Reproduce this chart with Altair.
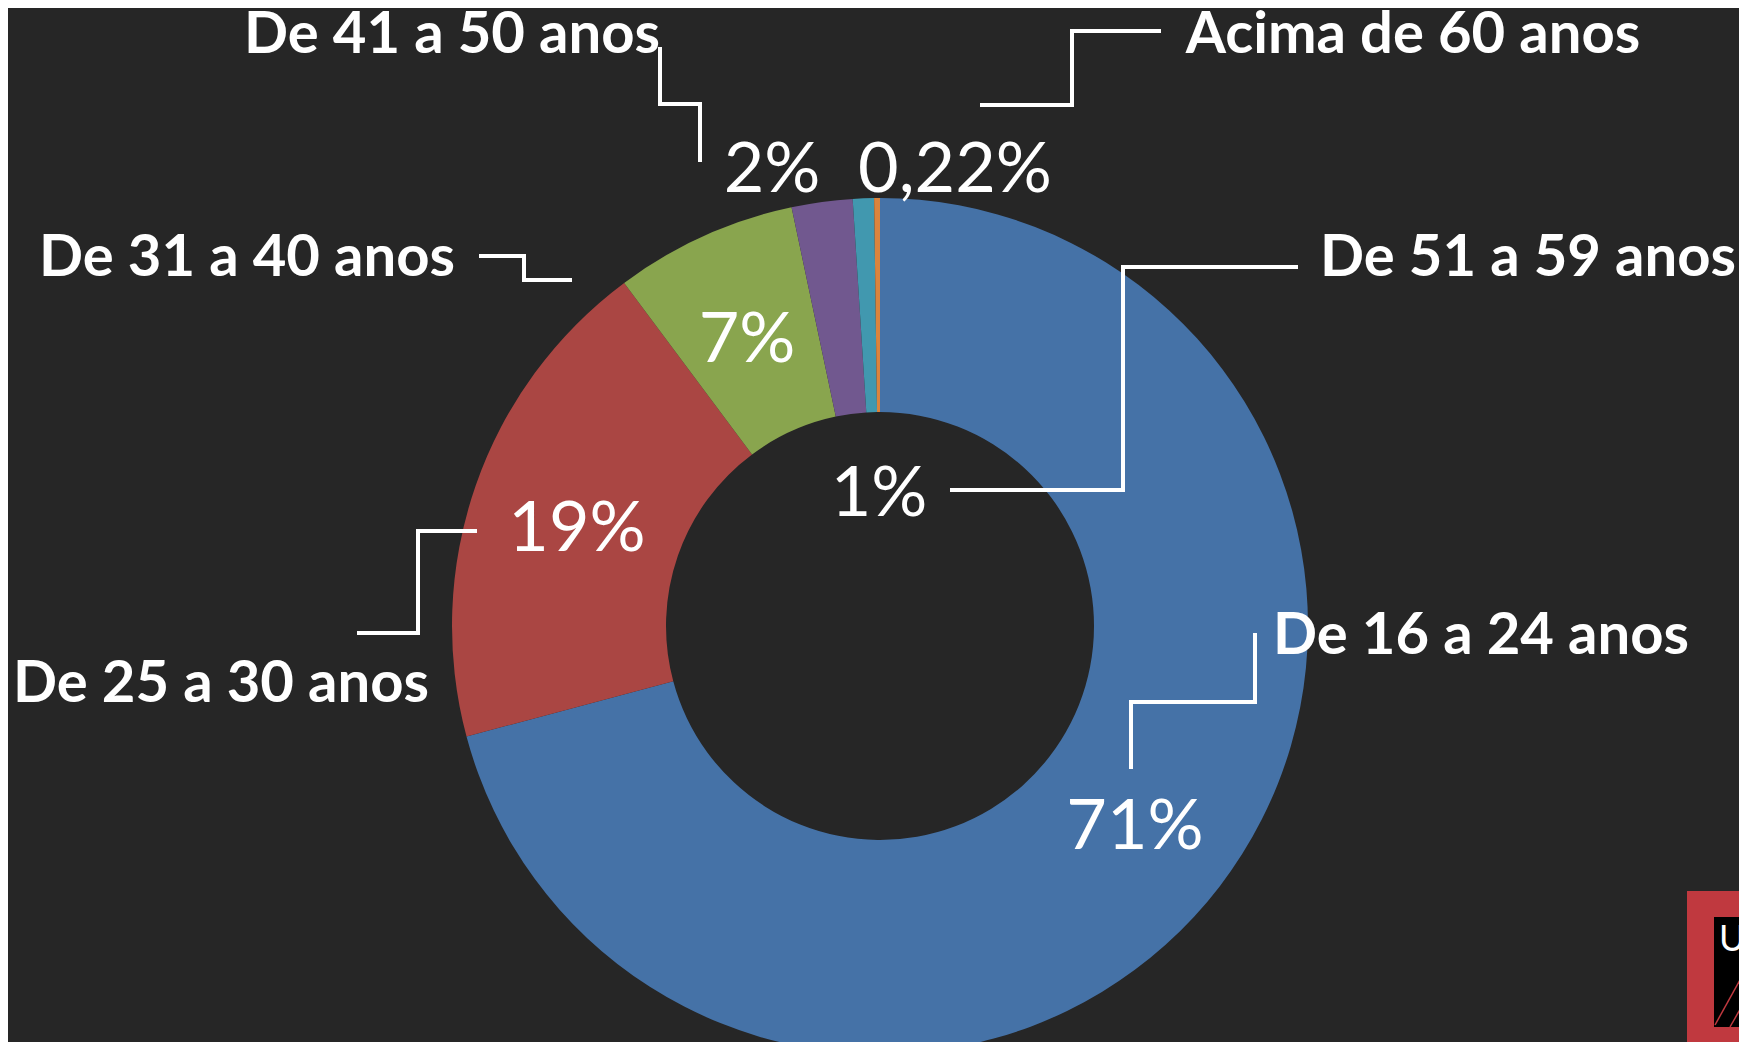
import altair as alt
import pandas as pd

# ---- data ----
categories = ["De 16 a 24 anos", "De 25 a 30 anos", "De 31 a 40 anos",
              "De 41 a 50 anos", "De 51 a 59 anos", "Acima de 60 anos"]
values = [71.0, 19.0, 6.9, 2.3, 0.8, 0.22]
pct_labels = ["71%", "19%", "7%", "2%", "1%", "0,22%"]

# ---- styling / layout ----
colors = ["#4572A7", "#AA4643", "#89A54E", "#71588F", "#4198AF", "#DB843D"]
BG = "#262626"
W, H = 1731, 1034
OFF = 8  # page margin: reference pixel -> chart pixel
CX, CY = 880, 626
R_OUT, R_IN = 428, 214

cat_pos = [(1481, 654), (221, 702), (247, 276), (452, 53), (1528, 276), (1413, 53)]
pct_pos = [(1135, 849), (577, 551), (747, 362), (772, 192), (879, 516), (955, 192)]
leaders = [
    [(1255, 633), (1255, 702), (1131, 702), (1131, 769)],
    [(477, 531), (418, 531), (418, 633), (357, 633)],
    [(479, 256), (524, 256), (524, 280), (572, 280)],
    [(660, 47), (660, 104), (700, 104), (700, 162)],
    [(1298, 267), (1123, 267), (1123, 490), (950, 490)],
    [(1161, 31), (1072, 31), (1072, 105), (980, 105)],
]

xs = alt.Scale(domain=[0, W], range=[0, W])
ys = alt.Scale(domain=[0, H], range=[0, H])

df = pd.DataFrame({"cat": categories, "value": values, "idx": list(range(len(categories)))})

donut = alt.Chart(df).mark_arc(innerRadius=R_IN, outerRadius=R_OUT).encode(
    theta=alt.Theta("value:Q", stack=True),
    color=alt.Color("cat:N", scale=alt.Scale(domain=categories, range=colors), legend=None),
    order=alt.Order("idx:Q"),
    x=alt.value(CX - OFF),
    y=alt.value(CY - OFF),
)

cat_df = pd.DataFrame({"label": categories,
                       "x": [p[0] - OFF for p in cat_pos],
                       "y": [p[1] - OFF for p in cat_pos]})
pct_df = pd.DataFrame({"label": pct_labels,
                       "x": [p[0] - OFF for p in pct_pos],
                       "y": [p[1] - OFF for p in pct_pos]})

rows = []
for i, seg in enumerate(leaders):
    for k, (x, y) in enumerate(seg):
        rows.append({"seg": i, "k": k, "x": x - OFF, "y": y - OFF})
lead_df = pd.DataFrame(rows)

cat_text = alt.Chart(cat_df).mark_text(
    font="Lato", fontWeight="bold", fontSize=58, color="white",
    align="center", baseline="alphabetic"
).encode(
    x=alt.X("x:Q", scale=xs, axis=None),
    y=alt.Y("y:Q", scale=ys, axis=None),
    text="label:N",
)

pct_text = alt.Chart(pct_df).mark_text(
    font="Lato", fontSize=70, color="white",
    align="center", baseline="alphabetic"
).encode(
    x=alt.X("x:Q", scale=xs, axis=None),
    y=alt.Y("y:Q", scale=ys, axis=None),
    text="label:N",
)

lines = alt.Chart(lead_df).mark_line(color="white", strokeWidth=4, strokeJoin="miter").encode(
    x=alt.X("x:Q", scale=xs, axis=None),
    y=alt.Y("y:Q", scale=ys, axis=None),
    detail="seg:N",
    order="k:Q",
)

# logo fragment in the bottom-right corner
logo_rects = pd.DataFrame({
    "x": [1687 - OFF, 1714 - OFF], "x2": [1760 - OFF, 1760 - OFF],
    "y": [891 - OFF, 917 - OFF], "y2": [1060 - OFF, 1027 - OFF],
    "c": ["#C0393F", "#000000"], "k": [0, 1],
})
logo = alt.Chart(logo_rects).mark_rect().encode(
    x=alt.X("x:Q", scale=xs, axis=None), x2="x2:Q",
    y=alt.Y("y:Q", scale=ys, axis=None), y2="y2:Q",
    color=alt.Color("c:N", scale=None),
    order="k:Q",
)
logo_lines_df = pd.DataFrame([
    {"seg": 0, "k": 0, "x": 1715 - OFF, "y": 1025 - OFF},
    {"seg": 0, "k": 1, "x": 1750 - OFF, "y": 962 - OFF},
    {"seg": 1, "k": 0, "x": 1730 - OFF, "y": 1027 - OFF},
    {"seg": 1, "k": 1, "x": 1750 - OFF, "y": 992 - OFF},
])
logo_lines = alt.Chart(logo_lines_df).mark_line(color="#C0393F", strokeWidth=1.5).encode(
    x=alt.X("x:Q", scale=xs, axis=None),
    y=alt.Y("y:Q", scale=ys, axis=None),
    detail="seg:N", order="k:Q",
)
logo_u = alt.Chart(pd.DataFrame({"t": ["U"], "x": [1719 - OFF], "y": [951 - OFF]})).mark_text(
    font="Lato", fontSize=36, color="white", align="left", baseline="alphabetic"
).encode(
    x=alt.X("x:Q", scale=xs, axis=None),
    y=alt.Y("y:Q", scale=ys, axis=None),
    text="t:N",
)

chart = alt.layer(donut, lines, cat_text, pct_text, logo, logo_lines, logo_u).properties(
    width=W, height=H, padding=0, autosize=alt.AutoSizeParams(type="none"),
    background=BG,
).configure_view(stroke=None)

chart.save("out.html", embed_options={"renderer": "svg", "actions": False})
